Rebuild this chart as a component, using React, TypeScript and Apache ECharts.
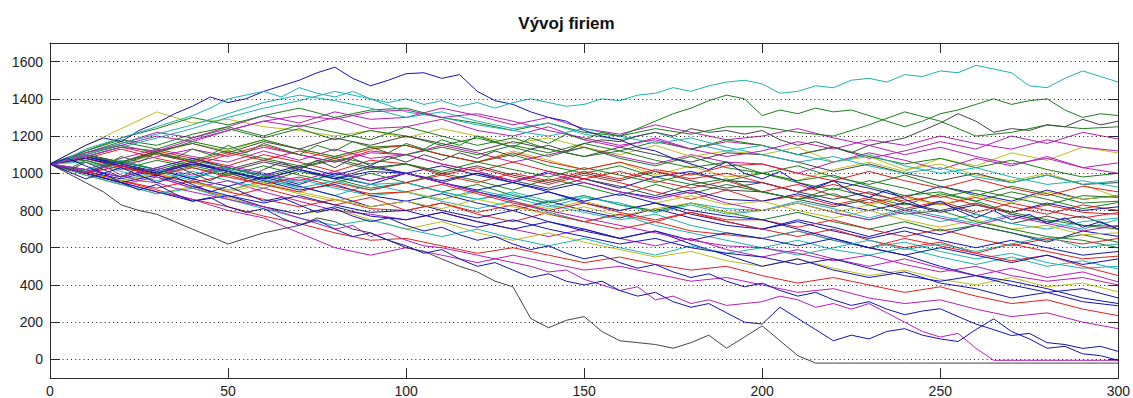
import React, { useEffect, useRef } from "react";
import * as echarts from "echarts";

const TITLE = "Vývoj firiem";
const X_MIN = 0;
const X_MAX = 300;
const X_INTERVAL = 50;
const Y_MIN = -100;
const Y_MAX = 1700;
const Y_TICKS = [0, 200, 400, 600, 800, 1000, 1200, 1400, 1600];
const STEP_COARSE = 10; // firm values read every 10 periods
const STEP_FINE = 5; // firm values read every 5 periods

// ---- coarse firms (t = 0,10,...,300) ----
const f01 = [1050,1110,1150,1200,1170,1230,1280,1250,1300,1240, 1250,1290,1230,1200,1250,1180,1140,1190,1130,1170, 1150,1100,1140,1080,1120,1170,1130,1200,1160,1220, 1184];
const f02 = [1050,1090,1040,1110,1160,1120,1180,1130,1090,1140, 1150,1100,1060,1120,1070,1020,1060,990,1040,980, 1000,960,1020,1060,1010,1080,1040,1110,1070,1140, 1109];
const f03 = [1050,1020,1080,1130,1090,1060,1120,1070,1130,1080, 1100,1150,1110,1060,1100,1140,1090,1050,1100,1060, 1050,1000,1060,1110,1070,1020,1080,1040,1090,1030, 1056];
const f04 = [1050,1150,1240,1330,1270,1290,1250,1230,1200,1230, 1190,1240,1200,1160,1190,1140,1100,1150,1090,1120, 1100,1140,1060,1090,1020,1050,990,960,1000,940, 870];
const f05 = [1050,1000,1060,1020,970,1030,990,940,1000,960, 1000,1040,990,950,1010,970,920,980,1010,960, 950,900,960,920,870,930,890,850,910,860, 880];
const f06 = [1050,1080,1030,990,1040,1000,950,1010,970,920, 950,1000,960,910,970,930,880,940,890,940, 900,860,920,870,830,890,850,900,860,810, 843];
const f07 = [1050,1100,1060,1120,1080,1040,1100,1060,1010,1070, 1050,990,1030,980,940,990,950,900,860,910, 850,880,830,870,810,850,790,840,800,760, 789];
const f08 = [1050,1000,960,1010,960,910,960,930,880,940, 900,860,910,870,820,870,840,790,840,810, 800,850,810,760,810,770,730,780,740,700, 752];
const f09 = [1050,1090,1050,1000,1060,1010,1060,1020,970,1030, 1000,950,1000,960,920,970,930,880,940,910, 900,860,820,860,800,840,780,730,770,720, 715];
const f10 = [1050,1010,970,1020,970,930,980,930,880,820, 850,890,840,800,850,800,760,810,760,720, 700,750,710,660,710,670,720,680,630,690, 661];
const f11 = [1050,1070,1020,1070,1030,990,1040,990,950,1000, 950,900,940,880,840,880,830,800,840,790, 750,790,740,700,740,690,720,680,640,670, 629];
const f12 = [1050,990,940,980,920,870,920,870,830,870, 800,840,780,740,790,740,700,740,690,670, 650,690,640,600,650,610,570,620,580,540, 555];
const f13 = [1050,1060,1010,960,1010,960,920,970,920,880, 900,850,810,850,790,740,780,720,680,640, 600,640,590,560,600,550,510,550,500,530, 485];
const f14 = [1050,1000,1040,980,920,960,900,850,800,780, 750,790,740,700,660,700,650,610,650,590, 550,590,540,500,540,490,450,490,440,470, 416];
const f15 = [1050,990,940,890,930,870,820,780,810,750, 700,740,680,640,680,630,590,550,580,530, 500,540,490,450,480,430,400,440,390,410, 363];
const f16 = [1050,1090,1040,1000,1050,1010,960,910,940,880, 850,800,760,800,740,700,650,690,620,560, 500,540,480,440,470,410,380,330,360,310, 288];
const f17 = [1050,1010,960,910,860,820,770,730,680,640, 650,610,570,600,560,520,550,510,480,500, 450,410,440,400,360,390,340,300,320,270, 235];
const f18 = [1050,1000,950,900,860,800,760,680,600,560, 600,560,520,560,520,480,500,460,420,440, 400,360,380,330,300,320,270,230,250,200, 165];
const f19 = [1050,1110,1170,1130,1190,1240,1190,1240,1180,1230, 1200,1150,1190,1140,1090,1140,1080,1040,1090,1030, 1000,1040,980,940,990,930,880,930,890,840, 850];
const f20 = [1050,1080,1130,1080,1040,1100,1150,1100,1060,1120, 1100,1050,1010,1060,1010,970,1010,960,920,960, 900,940,880,840,880,830,870,820,780,830, 800];
const f21 = [1050,1020,980,1030,1080,1030,990,1040,990,1040, 1000,960,1000,950,910,950,900,870,910,860, 850,890,840,800,840,790,830,790,840,800, 820];
const f22 = [1050,1020,1070,1020,980,1020,970,920,960,910, 950,900,860,900,850,880,830,790,830,780, 800,840,790,750,790,740,780,730,700,740, 760];
const f23 = [1050,1100,1050,1110,1060,1020,1070,1030,1080,1030, 1050,1000,1040,990,950,1000,960,1010,960,920, 950,900,860,900,840,800,840,780,740,770, 700];
const f24 = [1050,1000,950,1000,950,900,940,890,850,890, 900,860,900,850,810,850,800,840,880,830, 850,800,760,800,750,710,750,700,720,670, 680];
const f25 = [1050,1100,1150,1110,1170,1130,1180,1130,1090,1140, 1150,1100,1060,1100,1040,1000,1040,980,940,970, 900,860,890,830,780,800,740,700,660,640, 600];
const f26 = [1050,1000,960,920,960,900,860,820,860,810, 800,840,790,830,780,740,780,740,790,750, 750,710,750,700,660,700,650,610,650,620, 650];
const f27 = [1050,1090,1050,1010,1060,1010,970,1020,980,940, 1000,950,900,860,900,840,800,840,780,740, 700,740,690,650,690,640,600,640,600,560, 580];
const f28 = [1050,1080,1040,1090,1130,1090,1140,1100,1060,1110, 1100,1050,1010,960,1000,950,900,860,900,840, 800,840,790,750,800,760,720,770,730,690, 720];
const f29 = [1050,1010,1060,1020,980,1030,990,950,990,940, 950,900,860,890,830,790,750,780,720,680, 650,690,640,600,630,580,540,570,520,490, 500];
const f30 = [1050,1000,960,1000,950,910,950,900,860,820, 850,810,860,820,780,820,770,810,840,790, 800,840,790,830,870,830,880,840,900,860, 880];
const f31 = [1050,1110,1160,1220,1190,1250,1310,1270,1330,1290, 1300,1350,1310,1260,1300,1240,1210,1260,1220,1180, 1200,1240,1190,1150,1100,1140,1090,1050,1080,1030, 1000];
const f32 = [1050,1100,1060,1120,1160,1110,1170,1130,1190,1150, 1200,1160,1120,1170,1130,1090,1140,1100,1060,1110, 1100,1060,1010,1050,1000,960,1000,950,990,940, 950];
const f33 = [1050,1010,1060,1020,1070,1030,980,1030,1070,1020, 1050,1010,1060,1020,980,1030,990,950,1000,960, 1000,950,910,960,920,870,910,870,830,880, 870];
const f34 = [1050,1080,1030,990,1030,980,940,980,930,890, 900,940,890,840,800,840,790,750,790,740, 700,660,700,640,600,630,570,530,560,500, 450];
const f35 = [1050,1000,950,900,850,880,820,780,820,770, 750,790,740,700,740,690,650,690,640,680, 650,610,650,600,560,600,560,520,560,510, 540];
const f36 = [1050,1080,1040,1000,1050,1010,970,1020,970,1010, 1000,950,910,950,900,850,890,840,800,770, 750,700,650,600,560,500,450,420,380,330, 300];
const f37 = [1050,1090,1140,1100,1060,1110,1070,1120,1080,1130, 1150,1100,1060,1110,1060,1020,1060,1010,970,1000, 950,900,940,890,850,880,830,790,830,790, 780];
const f38 = [1050,1120,1180,1150,1210,1250,1200,1260,1220,1180, 1250,1200,1150,1190,1130,1090,1120,1070,1030,1060, 1000,960,990,930,880,900,850,790,750,720, 700];
const f39 = [1050,990,940,890,920,860,810,760,720,750, 700,660,700,650,610,650,600,560,610,570, 600,560,600,640,590,620,580,620,660,600, 620];
const f40 = [1050,1000,1040,990,950,990,940,900,950,910, 950,990,950,1000,960,1010,970,1020,990,1040, 1050,1000,960,1010,960,920,970,920,880,930, 900];
const f41 = [1050,1100,1060,1110,1070,1120,1080,1040,1090,1050, 1100,1140,1100,1150,1110,1160,1120,1170,1130,1180, 1150,1100,1140,1090,1050,1080,1030,1070,1020,980, 1000];
const f42 = [1050,1020,980,1030,990,1040,1000,960,1010,960, 1000,950,900,850,800,760,720,680,640,610, 600,570,530,560,510,470,500,450,420,440, 400];
const f43 = [1050,1120,1190,1240,1300,1260,1310,1350,1300,1340, 1350,1300,1270,1230,1270,1220,1200,1240,1210,1250, 1250,1220,1200,1260,1330,1280,1200,1220,1260,1240, 1250];
const f44 = [1050,1000,950,990,930,880,840,880,830,790, 800,750,710,750,700,660,620,650,600,570, 550,510,540,490,450,420,450,400,360,380, 330];
const f45 = [1050,1100,1160,1210,1260,1320,1380,1420,1390,1350, 1300,1330,1280,1240,1270,1210,1180,1220,1160,1120, 1150,1100,1060,1100,1040,1000,1030,980,940,960, 925];
const f46 = [1050,1090,1140,1190,1240,1300,1350,1390,1440,1400, 1330,1300,1260,1230,1200,1240,1200,1160,1190,1140, 1100,1060,1090,1040,1000,1030,980,950,990,940, 960];
const f47 = [1050,1090,1140,1120,1180,1230,1280,1310,1290,1330, 1340,1300,1320,1280,1230,1190,1150,1180,1130,1090, 1120,1170,1130,1180,1150,1200,1160,1130,1180,1140, 1120];

// ---- fine firms (t = 0,5,...,300) ----
const fA = [1050,1100,1150,1190,1170,1230,1270,1320,1360,1410, 1380,1400,1440,1470,1500,1540,1570,1510,1470,1500, 1535,1540,1510,1530,1440,1390,1370,1330,1300,1280, 1230,1200,1180,1140,1120,1080,1050,1020,1060,1000, 970,1010,950,920,960,900,870,910,860,820, 850,800,760,800,750,780,730,760,710,740, 700];
const fB = [1050,1080,1130,1160,1190,1220,1250,1280,1310,1350, 1400,1420,1440,1410,1460,1430,1410,1440,1400,1380, 1400,1370,1390,1360,1380,1350,1380,1400,1380,1360, 1370,1400,1390,1420,1430,1460,1440,1470,1490,1500, 1480,1430,1440,1470,1460,1500,1510,1490,1530,1520, 1550,1540,1580,1560,1540,1470,1460,1510,1550,1520, 1490];
const fC = [1050,1020,1070,1040,1090,1060,1110,1080,1130,1100, 1150,1110,1160,1130,1100,1150,1120,1170,1140,1110, 1160,1130,1180,1150,1200,1170,1140,1190,1160,1210, 1180,1220,1200,1240,1280,1320,1350,1390,1420,1400, 1310,1340,1320,1350,1330,1340,1310,1280,1250,1280, 1320,1340,1370,1400,1370,1390,1400,1340,1300,1320, 1310];
const fD = [1050,1010,1060,1020,980,1030,990,1040,1000,960, 1010,970,1020,1060,1020,1070,1030,1080,1040,1090, 1060,1100,1070,1110,1080,1120,1090,1130,1150,1120, 1160,1180,1170,1200,1220,1200,1240,1220,1230,1210, 1230,1180,1150,1170,1140,1110,1150,1170,1190,1230, 1270,1320,1280,1220,1240,1230,1260,1250,1290,1260, 1280];
const fE = [1050,1000,950,900,830,800,780,740,700,660, 620,650,680,700,720,760,740,700,680,640, 600,580,540,500,470,420,390,220,170,210, 230,150,100,90,80,60,90,130,60,120, 180,100,20,-20,-20,-20,-20,-20,-20,-20, -20,-20,-20,-20,-20,-20,-20,-20,-20,-20, -20];
const fF = [1050,1030,1000,1040,990,960,950,920,900,880, 860,840,820,790,760,730,700,720,660,680, 640,610,600,580,560,540,520,500,470,480, 430,400,370,390,320,340,300,320,290,300, 310,340,320,280,300,270,300,250,200,150, 120,140,60,-5,-5,-5,-5,-5,-5,-5, -5];
const fG = [1050,1010,970,1000,950,910,940,890,850,870, 820,790,810,760,720,750,700,660,680,640, 610,570,590,540,500,520,480,440,460,420, 400,420,370,340,360,310,280,300,250,200, 190,280,220,160,100,130,110,150,165,130, 110,96,160,218,150,110,60,70,30,20, -5];
const fH = [1050,1080,1040,1000,1030,990,950,980,940,900, 930,890,850,870,830,790,810,770,740,760, 720,690,710,670,640,660,620,590,610,570, 540,560,520,490,510,470,440,460,420,390, 410,370,340,360,320,290,310,270,240,260, 272,230,190,160,128,140,90,80,59,70, 43];

const COARSE_FIRMS = [f01,f02,f03,f04,f05,f06,f07,f08,f09,f10,f11,f12,f13,f14,f15,f16,f17,f18,f19,f20,f21,f22,f23,f24,f25,f26,f27,f28,f29,f30,f31,f32,f33,f34,f35,f36,f37,f38,f39,f40,f41,f42,f43,f44,f45,f46,f47];
const FINE_FIRMS = [fA, fB, fC, fD, fE, fF, fG, fH];

// styling (MATLAB colour order)
const PALETTE: Record<string, string> = {
  b: "#1414b4",
  g: "#1e7d1e",
  r: "#e02020",
  c: "#20b0b0",
  m: "#b420b4",
  y: "#bcbc20",
  k: "#444444",
};
const COARSE_COLORS = ["m","y","m","y","b","g","r","c","k","b","g","r","c","m","y","b","r","m","g","r","b","c","k","y","g","r","b","m","c","y","m","k","g","r","b","b","r","g","c","r","g","m","g","b","c","c","m"];
const FINE_COLORS = ["b","c","g","k","k","m","b","b"];
const AXIS_COLOR = "#2a2a2a";

function toPairs(vals: number[], step: number) {
  return vals.map((v, i) => [i * step, v]);
}

export default function App() {
  const ref = useRef<HTMLDivElement>(null);
  useEffect(() => {
    const chart = echarts.init(ref.current!, null, { renderer: "svg" });
    const font = "Arial, 'Liberation Sans', Helvetica, sans-serif";
    const series: any[] = [];
    COARSE_FIRMS.forEach((vals, i) => {
      const s: any = {
        type: "line",
        data: toPairs(vals, STEP_COARSE),
        showSymbol: false,
        symbol: "none",
        silent: true,
        lineStyle: { width: 1, color: PALETTE[COARSE_COLORS[i]] },
      };
      if (i === 0) {
        s.markLine = {
          silent: true,
          symbol: ["none", "none"],
          label: { show: false },
          lineStyle: { color: "#222", type: [1, 3.2], width: 1 },
          data: Y_TICKS.map((v) => ({ yAxis: v })),
        };
      }
      series.push(s);
    });
    FINE_FIRMS.forEach((vals, i) => {
      series.push({
        type: "line",
        data: toPairs(vals, STEP_FINE),
        showSymbol: false,
        symbol: "none",
        silent: true,
        lineStyle: { width: 1, color: PALETTE[FINE_COLORS[i]] },
      });
    });

    const xBase = {
      type: "value",
      min: X_MIN,
      max: X_MAX,
      interval: X_INTERVAL,
      axisLine: { show: true, onZero: false, lineStyle: { color: AXIS_COLOR, width: 1 } },
      axisTick: { show: true, inside: true, length: 10, lineStyle: { color: AXIS_COLOR, width: 1 } },
      splitLine: { show: false },
    };
    const yBase = {
      type: "value",
      min: Y_MIN,
      max: Y_MAX,
      axisLine: { show: true, onZero: false, lineStyle: { color: AXIS_COLOR, width: 1 } },
      axisTick: { show: true, inside: true, length: 10, customValues: Y_TICKS, lineStyle: { color: AXIS_COLOR, width: 1 } },
      splitLine: { show: false },
    };

    chart.setOption({
      animation: false,
      backgroundColor: "#ffffff",
      title: {
        text: TITLE,
        left: "center",
        top: 10,
        textStyle: { fontFamily: font, fontSize: 17, fontWeight: "bold", color: "#111" },
      },
      grid: { left: 50, right: 12, top: 43, bottom: 18, containLabel: false },
      xAxis: [
        {
          ...xBase,
          position: "bottom",
          axisLabel: { show: true, color: "#222", fontSize: 14, fontFamily: font, margin: 6 },
        },
        { ...xBase, position: "top", axisLabel: { show: false } },
      ],
      yAxis: [
        {
          ...yBase,
          position: "left",
          axisLabel: {
            show: true,
            customValues: Y_TICKS,
            formatter: (v: number) => String(v),
            color: "#222",
            fontSize: 14,
            fontFamily: font,
            margin: 7,
          },
        },
        { ...yBase, position: "right", axisLabel: { show: false } },
      ],
      series,
    });

    return () => chart.dispose();
  }, []);
  return (
    <div
      ref={ref}
      style={{ position: "absolute", left: 0, top: 0, width: 1133, height: 398, background: "#fff" }}
    />
  );
}
